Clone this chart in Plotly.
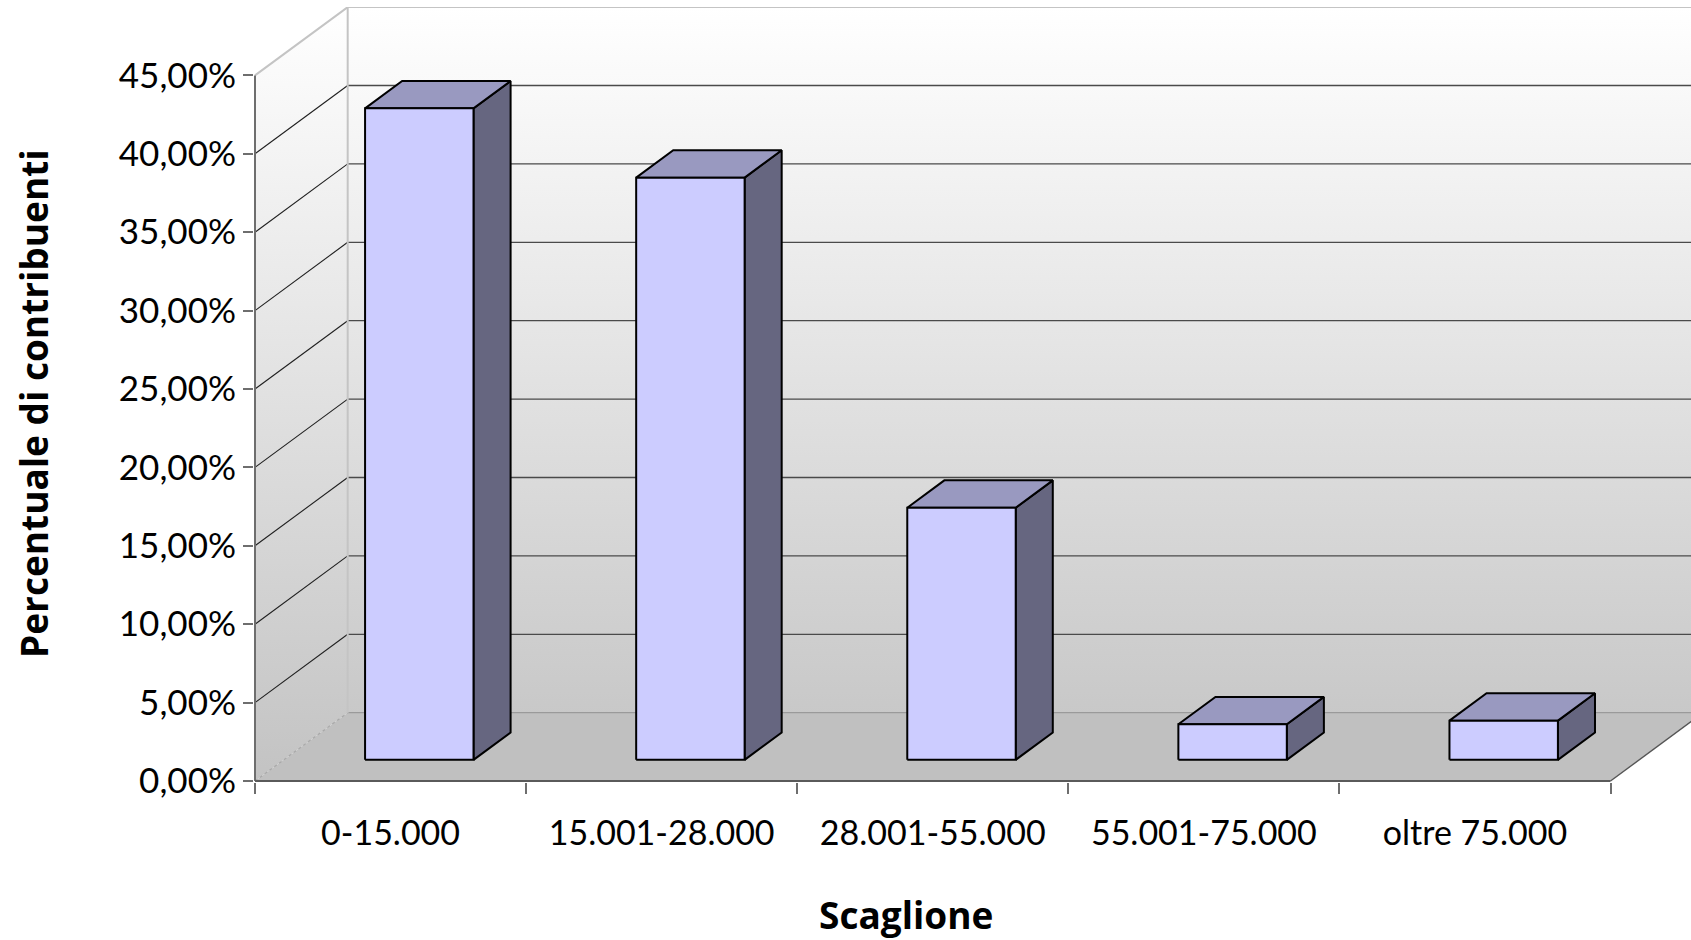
import plotly.graph_objects as go

# ---- data ----
categories = ["0-15.000", "15.001-28.000", "28.001-55.000", "55.001-75.000", "oltre 75.000"]
values = [41.55, 37.13, 16.08, 2.27, 2.50]          # percent
ytick_vals = [0, 5, 10, 15, 20, 25, 30, 35, 40, 45]
ytick_text = ["0,00%", "5,00%", "10,00%", "15,00%", "20,00%", "25,00%",
              "30,00%", "35,00%", "40,00%", "45,00%"]
y_title = "Percentuale di contribuenti"
x_title = "Scaglione"

# ---- layout geometry (styling) ----
W, H = 1691, 940
ML, MR, MT, MB = 254, 0, 7, 158
KX = 271.1      # px per category
KY = 15.68      # px per percent
X0PX = 255      # px of category boundary -0.5
Y0PX = 781      # px of 0 %
DX = 92.7 / KX  # depth offset in x data units
DY = 68.3 / KY  # depth offset in y data units
HALF_W = 0.2
F0, F1 = 0.31, 0.71
YMAX_AX = 45

x_lo = -0.5 - (X0PX - ML) / KX
x_hi = -0.5 + (W - MR - X0PX) / KX
y_lo = -((H - MB) - Y0PX) / KY
y_hi = (Y0PX - MT) / KY

n = len(categories)
xL, xR = -0.5, n - 0.5

fig = go.Figure()


def poly(xs, ys, fill=None, line_color=None, width=0, dash=None, gradient=None):
    kw = dict(x=list(xs) + [xs[0]], y=list(ys) + [ys[0]], mode="lines",
              hoverinfo="skip", showlegend=False)
    kw["line"] = dict(color=line_color or "rgba(0,0,0,0)", width=width)
    if dash:
        kw["line"]["dash"] = dash
    if fill or gradient:
        kw["fill"] = "toself"
        if fill:
            kw["fillcolor"] = fill
        if gradient:
            kw["fillgradient"] = gradient
    fig.add_trace(go.Scatter(**kw))


def seg(xs, ys, color, width, dash=None):
    ln = dict(color=color, width=width)
    if dash:
        ln["dash"] = dash
    fig.add_trace(go.Scatter(x=xs, y=ys, mode="lines", line=ln,
                             hoverinfo="skip", showlegend=False))


wall_grad = dict(type="vertical", start=0, stop=YMAX_AX + DY,
                 colorscale=[[0, "#c3c3c3"], [1, "#ffffff"]])

# back wall
poly([xL + DX, xR + DX + 1, xR + DX + 1, xL + DX],
     [DY, DY, YMAX_AX + DY, YMAX_AX + DY], gradient=wall_grad)
# side wall
poly([xL, xL + DX, xL + DX, xL], [0, DY, YMAX_AX + DY, YMAX_AX], gradient=wall_grad)
# floor
poly([xL, xR, xR + DX, xL + DX], [0, 0, DY, DY], fill="#c0c0c0")

# gridlines
for g in ytick_vals[1:-1]:
    seg([xL + DX, xR + DX + 1], [g + DY, g + DY], "#4a4a4a", 1.3)
    seg([xL, xL + DX], [g, g + DY], "#202020", 1.1)
# 0 level lines
seg([xL + DX, xR + DX + 1], [DY, DY], "#9a9a9a", 1.3)
seg([xL, xL + DX], [0, DY], "#a8a8a8", 1.2, dash="dot")
# wall borders
seg([xL + DX, xL + DX], [DY, YMAX_AX + DY], "#c4c4c4", 2)
seg([xL, xL + DX, xR + DX + 1], [YMAX_AX, YMAX_AX + DY, YMAX_AX + DY], "#c4c4c4", 2)
# floor right diagonal
seg([xR, xR + DX], [0, DY], "#555555", 1.4)

# bars
for i, v in enumerate(values):
    a0x, a1x = i - HALF_W + F0 * DX, i + HALF_W + F0 * DX
    b0x, b1x = i - HALF_W + F1 * DX, i + HALF_W + F1 * DX
    y0f, y0b = F0 * DY, F1 * DY
    # side
    poly([a1x, b1x, b1x, a1x], [y0f, y0b, v + y0b, v + y0f],
         fill="#666680", line_color="#000000", width=2)
    # top
    poly([a0x, a1x, b1x, b0x], [v + y0f, v + y0f, v + y0b, v + y0b],
         fill="#9999c0", line_color="#000000", width=2)
    # front
    poly([a0x, a1x, a1x, a0x], [y0f, y0f, v + y0f, v + y0f],
         fill="#ccccff", line_color="#000000", width=2)

# axis lines
seg([xL, xL], [0, YMAX_AX], "#6e6e6e", 2)
seg([xL, xR], [0, 0], "#5a5a5a", 2)

FONT = "Lato, 'Open Sans', sans-serif"
TFONT = "'Open Sans', Lato, sans-serif"

fig.update_layout(
    width=W, height=H,
    margin=dict(l=ML, r=MR, t=MT, b=MB, pad=0),
    paper_bgcolor="white", plot_bgcolor="white",
    showlegend=False,
    xaxis=dict(range=[x_lo, x_hi], showgrid=False, zeroline=False, showline=False,
               tickmode="array", tickvals=list(range(n)), ticktext=categories,
               ticks="", tickfont=dict(family=FONT, size=34, color="black"),
               ticklabelstandoff=28,
               minor=dict(tickmode="array", tickvals=[k - 0.5 for k in range(n + 1)],
                          ticks="outside", ticklen=11, tickwidth=2, tickcolor="#6e6e6e",
                          showgrid=False),
               fixedrange=True),
    yaxis=dict(range=[y_lo, y_hi], showgrid=False, zeroline=False, showline=False,
               tickmode="array", tickvals=ytick_vals, ticktext=ytick_text,
               ticks="outside", ticklen=10, tickwidth=2, tickcolor="#6e6e6e",
               tickfont=dict(family=FONT, size=35, color="black"),
               ticklabelstandoff=0, fixedrange=True),
    annotations=[
        dict(text=y_title, xref="paper", yref="paper",
             x=(34 - ML) / (W - ML - MR), y=1 - (404 - MT) / (H - MT - MB),
             showarrow=False, textangle=-90, xanchor="center", yanchor="middle",
             font=dict(family=TFONT, size=37, color="black", weight="bold")),
        dict(text=x_title, xref="paper", yref="paper",
             x=(906 - ML) / (W - ML - MR), y=1 - (914 - MT) / (H - MT - MB),
             showarrow=False, xanchor="center", yanchor="middle",
             font=dict(family=TFONT, size=37, color="black", weight="bold")),
    ],
)

fig.write_html("out.html",
               config={"displayModeBar": False, "staticPlot": True},
               post_script="document.body.style.margin='0';"
                           "document.body.style.overflow='hidden';")
